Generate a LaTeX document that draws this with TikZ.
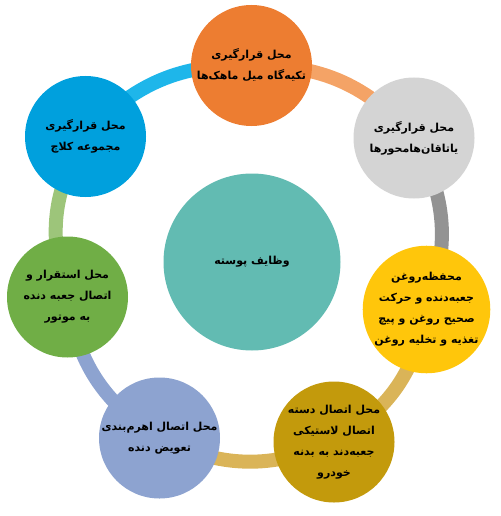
\documentclass[tikz,border=0pt]{standalone}
\usepackage{fontspec}
\newfontfamily\arabicfont[Script=Arabic]{DejaVu Sans}
\TeXXeTstate=1
\usetikzlibrary{backgrounds}
\definecolor{orangec}{HTML}{ED7D31}
\definecolor{orangel}{HTML}{F4A366}
\definecolor{grayc}{HTML}{D4D4D4}
\definecolor{grayl}{HTML}{939393}
\definecolor{yellowc}{HTML}{FFC60B}
\definecolor{goldc}{HTML}{C39A0C}
\definecolor{goldl}{HTML}{DAB458}
\definecolor{bluegrayc}{HTML}{8DA3D0}
\definecolor{greenc}{HTML}{70AE46}
\definecolor{greenl}{HTML}{9DC57A}
\definecolor{bluec}{HTML}{00A0DD}
\definecolor{bluel}{HTML}{1EB6EA}
\definecolor{tealc}{HTML}{62BBB2}
\newcommand{\fa}[1]{\beginR #1\endR}
\tikzset{disc/.style={circle,minimum size=121pt,inner sep=0pt,align=center,font=\arabicfont\bfseries\fontsize{11}{21}\selectfont},link/.style={line width=14pt,bend left=25}}

\begin{document}
\begin{tikzpicture}[x=1pt,y=-1pt]
\useasboundingbox (0,0) rectangle (500,516);

%centre
\node (core) at (252,262)[disc,minimum size=177pt,fill=tealc]{\fa{وظایف پوسته}};

%ring
\node (orange) at (251.5,65.5)[disc,fill=orangec]{\fa{محل قرارگیری}\\\fa{تکیه‌گاه میل ماهک‌ها}};
\node (gray) at (414,138)[disc,fill=grayc]{\fa{محل قرارگیری}\\\fa{یاتاقان‌هامحورها}};
\node (yellow) at (426.5,309.5)[disc,fill=yellowc]{\fa{محفظه‌روغن}\\\fa{جعبه‌دنده و حرکت}\\\fa{صحیح روغن و پیچ}\\\fa{تغذیه و تخلیه روغن}};
\node (gold) at (334,442)[disc,fill=goldc]{\fa{محل اتصال دسته}\\\fa{اتصال لاستیکی}\\\fa{جعبه‌دند به بدنه}\\\fa{خودرو}};
\node (bluegray) at (159.5,438)[disc,fill=bluegrayc]{\fa{محل اتصال اهرم‌بندی}\\\fa{تعویض دنده}};
\node (green) at (67.5,297)[disc,fill=greenc]{\fa{محل استقرار و}\\\fa{اتصال جعبه دنده}\\\fa{به موتور}};
\node (blue) at (85.5,136.5)[disc,fill=bluec]{\fa{محل قرارگیری}\\\fa{مجموعه کلاچ}};

\begin{scope}[on background layer]
\draw[link,orangel] (orange.center) to (gray.center);
\draw[link,grayl] (gray.center) to (yellow.center);
\draw[link,goldl] (yellow.center) to (gold.center);
\draw[link,goldl] (gold.center) to (bluegray.center);
\draw[link,bluegrayc] (bluegray.center) to (green.center);
\draw[link,greenl] (green.center) to (blue.center);
\draw[link,bluel] (blue.center) to (orange.center);
\end{scope}

\end{tikzpicture}
\end{document}
